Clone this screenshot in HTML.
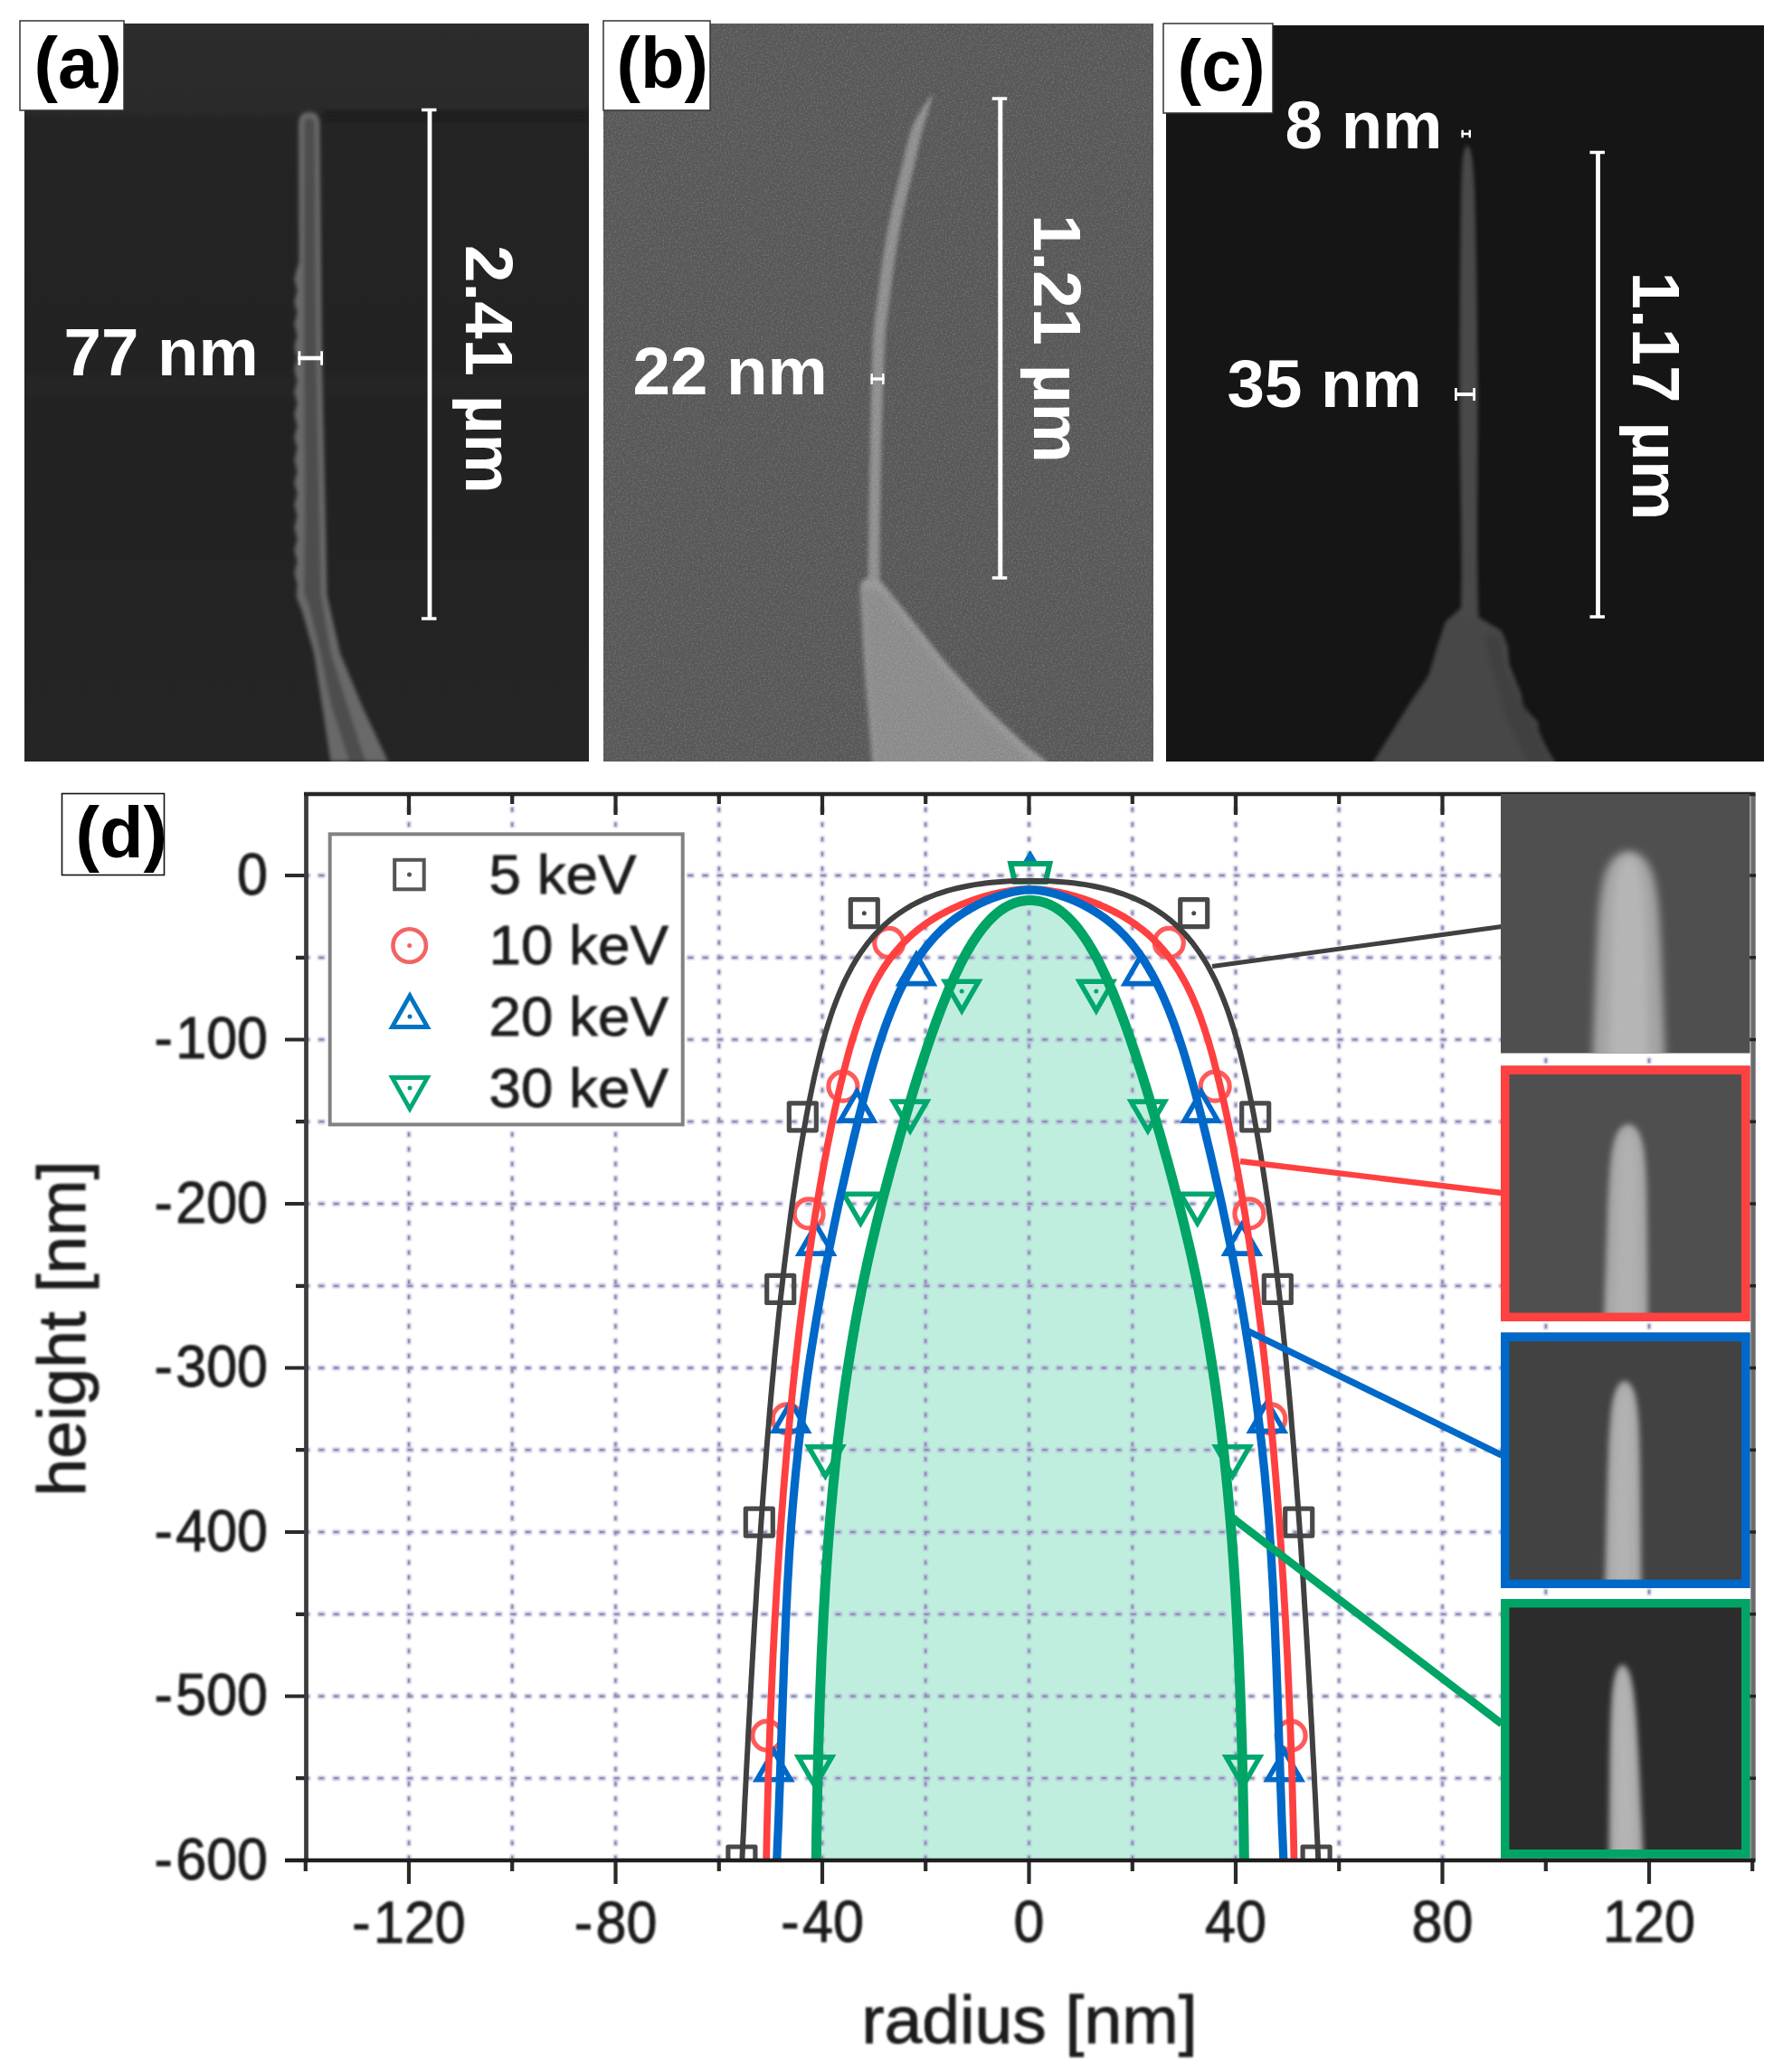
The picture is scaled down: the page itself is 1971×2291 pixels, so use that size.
<!DOCTYPE html>
<html lang="en"><head><meta charset="utf-8"><title>Nanowire tips – SEM and tip profile</title>
<style>
html,body{margin:0;padding:0;background:#fff}
svg{display:block}
text{font-family:"Liberation Sans",Arial,Helvetica,sans-serif}
.b{font-weight:bold}
.w{fill:#fff}
</style></head><body>
<svg width="1971" height="2291" viewBox="0 0 1971 2291">
<defs>
<filter id="bl2" x="-20%" y="-20%" width="140%" height="140%"><feGaussianBlur stdDeviation="2"/></filter>
<filter id="bl3" x="-20%" y="-20%" width="140%" height="140%"><feGaussianBlur stdDeviation="3"/></filter>
<filter id="bl5" x="-30%" y="-30%" width="160%" height="160%"><feGaussianBlur stdDeviation="5"/></filter>
<filter id="bl1" x="-10%" y="-10%" width="120%" height="120%"><feGaussianBlur stdDeviation="1.1"/></filter>
<filter id="soft" x="-2%" y="-2%" width="104%" height="104%"><feGaussianBlur stdDeviation="0.7"/></filter>
<filter id="tblur" x="-5%" y="-5%" width="110%" height="110%"><feGaussianBlur stdDeviation="0.9"/></filter>
<filter id="grain" x="0" y="0" width="100%" height="100%">
 <feTurbulence type="fractalNoise" baseFrequency="0.55" numOctaves="2" seed="3" result="n"/>
 <feColorMatrix type="matrix" values="0 0 0 0 1  0 0 0 0 1  0 0 0 0 1  0.9 0 0 0 -0.38"/>
</filter>
<clipPath id="cpa"><rect x="27" y="26" width="624" height="816"/></clipPath>
<clipPath id="cpb"><rect x="667" y="26" width="608" height="816"/></clipPath>
<clipPath id="cpc"><rect x="1289" y="28" width="661" height="814"/></clipPath>
<clipPath id="cpplot"><rect x="338.0" y="878.0" width="1600.0" height="1179.0"/></clipPath>
<linearGradient id="ga" x1="0" y1="0" x2="0" y2="1">
 <stop offset="0" stop-color="#2c2c2c"/><stop offset="0.118" stop-color="#2a2a2a"/>
 <stop offset="0.132" stop-color="#242424"/><stop offset="0.6" stop-color="#222222"/><stop offset="1" stop-color="#252525"/>
</linearGradient>
</defs>
<rect width="1971" height="2291" fill="#fff"/>

<g id="panel-a">
<rect x="27" y="26" width="624" height="816" fill="url(#ga)"/>
<g clip-path="url(#cpa)">
 <rect x="357" y="122" width="294" height="12" fill="#1f1f1f" filter="url(#bl3)"/>
 <rect x="27" y="414" width="624" height="26" fill="#2b2b2b" opacity="0.4" filter="url(#bl5)"/>
 <g filter="url(#bl2)">
  <path d="M330,137 Q330,124 342,124 Q353.5,124 353.5,137 L356,400 L359.5,560 L361.5,658 L376,722 L400,780 L429,842 L365.5,842 L356,780 L347,722 L334,676 L327.5,660 L328.5,646.0 L325.3,633.5 L328.5,621.0 L325.3,608.5 L328.5,596.0 L325.3,583.5 L328.5,571.0 L325.3,558.5 L328.5,546.0 L325.3,533.5 L328.5,521.0 L325.3,508.5 L328.5,496.0 L325.3,483.5 L328.5,471.0 L325.3,458.5 L328.5,446.0 L325.3,433.5 L328.5,421.0 L325.3,408.5 L328.5,396.0 L325.3,383.5 L328.5,371.0 L325.3,358.5 L328.5,346.0 L325.3,333.5 L328.5,321.0 L325.3,308.5 L328.5,296.0 L330.5,290 Z" fill="#696969"/>
  <path d="M336,140 Q336,130 342,130 Q348,130 348,140 L350,400 L353,560 L355,658 L366,722 L384,780 L404,842 L386,842 L366,780 L354,722 L342,672 L336,655 L337,560 L336,400 Z" fill="#4d4d4d"/>
 </g>
</g>
<path d="M475,121.5 V684" stroke="#fff" stroke-width="4.8" fill="none"/><path d="M465.95,121.5 h16.5 M465.95,684 h16.5" stroke="#fff" stroke-width="3.4" fill="none"/>
<path d="M329.5,396 H357" stroke="#fff" stroke-width="4.6" fill="none"/><path d="M330.9,388.25 v15.5 M355.6,388.25 v15.5" stroke="#fff" stroke-width="2.8" fill="none"/>
<text class="b w" x="70.500" y="415" font-size="74.500">77 nm</text>
<text class="b w" transform="translate(515,271) rotate(90)" font-size="74.500">2.41 µm</text>
<rect x="22" y="23" width="115" height="99" fill="#fff" stroke="#333" stroke-width="1.5"/>
<text class="b" x="37.500" y="97" font-size="79.500" fill="#000">(a)</text>
</g>

<g id="panel-b">
<rect x="667" y="26" width="608" height="816" fill="#575757"/>
<g clip-path="url(#cpb)">
 <g filter="url(#bl2)">
  <path d="M951,645 L959,638 L972.5,641 L1006.6,683.6 L1049.2,736.9 L1091.8,783.8 L1134.4,824.3 L1162,846 L965,846 L956,740 Z" fill="#969696"/>
  <path d="M953,650 L975,654 L1008,696 L1049,748 L1090,794 L1136,836 L1140,846 L966,846 L958,740 Z" fill="#8a8a8a" filter="url(#bl3)"/>
  <path d="M1029.8,105.0 L1024.6,111.8 L1020.1,118.6 L1016.0,125.4 L1012.2,132.2 L1009.0,139.0 L1006.6,145.8 L1004.6,152.6 L1002.8,159.4 L1001.1,166.2 L999.5,173.0 L997.9,179.8 L996.3,186.6 L994.7,193.4 L993.0,200.2 L991.4,207.0 L989.7,213.8 L988.2,220.6 L986.6,227.4 L985.2,234.2 L983.8,240.9 L982.5,247.7 L981.2,254.5 L979.9,261.3 L978.7,268.1 L977.6,274.9 L976.5,281.7 L975.5,288.5 L974.5,295.3 L973.6,302.1 L972.7,308.9 L971.9,315.7 L971.0,322.5 L970.2,329.3 L969.3,336.1 L968.3,342.9 L967.4,349.7 L966.6,356.5 L965.8,363.3 L965.3,370.1 L964.9,376.9 L964.5,383.7 L964.3,390.5 L964.1,397.3 L963.9,404.1 L963.7,410.9 L963.5,417.7 L963.4,424.5 L963.2,431.3 L963.0,438.1 L962.9,444.9 L962.7,451.7 L962.6,458.5 L962.4,465.3 L962.3,472.1 L962.2,478.9 L962.0,485.7 L961.9,492.5 L961.8,499.3 L961.6,506.1 L961.5,512.8 L961.3,519.6 L961.2,526.4 L961.0,533.2 L960.9,540.0 L960.8,546.8 L960.7,553.6 L960.5,560.4 L960.4,567.2 L960.3,574.0 L960.3,580.8 L960.2,587.6 L960.1,594.4 L960.0,601.2 L959.9,608.0 L959.8,614.8 L959.7,621.6 L959.6,628.4 L959.6,635.2 L959.5,642.0 L972.5,642.0 L972.5,635.2 L972.5,628.4 L972.5,621.6 L972.5,614.8 L972.5,608.0 L972.6,601.2 L972.6,594.4 L972.7,587.6 L972.8,580.8 L972.8,574.0 L972.9,567.2 L973.0,560.4 L973.2,553.6 L973.3,546.8 L973.4,540.0 L973.5,533.2 L973.7,526.4 L973.8,519.6 L974.0,512.8 L974.1,506.1 L974.3,499.3 L974.4,492.5 L974.6,485.7 L974.7,478.9 L974.9,472.1 L975.1,465.3 L975.3,458.5 L975.5,451.7 L975.7,444.9 L975.9,438.1 L976.1,431.3 L976.3,424.5 L976.5,417.7 L976.8,410.9 L977.1,404.1 L977.3,397.3 L977.6,390.5 L978.0,383.7 L978.3,376.9 L978.8,370.1 L979.3,363.3 L980.1,356.5 L980.9,349.7 L981.8,342.9 L982.8,336.1 L983.7,329.3 L984.5,322.5 L985.4,315.7 L986.2,308.9 L987.1,302.1 L988.0,295.3 L989.0,288.5 L990.0,281.7 L991.1,274.9 L992.2,268.1 L993.4,261.3 L994.7,254.5 L996.0,247.7 L997.3,240.9 L998.7,234.2 L1000.1,227.4 L1001.7,220.6 L1003.2,213.8 L1004.9,207.0 L1006.5,200.2 L1008.2,193.4 L1009.8,186.6 L1011.4,179.8 L1012.9,173.0 L1014.3,166.2 L1015.9,159.4 L1017.5,152.6 L1019.3,145.8 L1021.3,139.0 L1023.3,132.2 L1025.3,125.4 L1027.3,118.6 L1029.3,111.8 L1031.2,105.0 Z" fill="#8e8e8e"/>
 </g>
 <rect x="667" y="26" width="608" height="816" filter="url(#grain)" opacity="0.42"/>
</g>
<path d="M1105.8,109 V639" stroke="#fff" stroke-width="5" fill="none"/><path d="M1096.75,109 h16.5 M1096.75,639 h16.5" stroke="#fff" stroke-width="3.4" fill="none"/>
<path d="M962.5,419 H977.5" stroke="#fff" stroke-width="3.4" fill="none"/><path d="M963.7,413.0 v12 M976.3,413.0 v12" stroke="#fff" stroke-width="2.4" fill="none"/>
<text class="b w" x="699.500" y="436" font-size="74.500">22 nm</text>
<text class="b w" transform="translate(1143,237) rotate(90)" font-size="74.500">1.21 µm</text>
<rect x="667" y="23" width="118" height="99" fill="#fff" stroke="#333" stroke-width="1.5"/>
<text class="b" x="681.500" y="97" font-size="79.500" fill="#000">(b)</text>
</g>

<g id="panel-c">
<rect x="1289" y="28" width="661" height="814" fill="#151515"/>
<g clip-path="url(#cpc)">
 <g filter="url(#bl2)">
  <path d="M1614.6,672.4 L1597.8,687.5 L1587.7,717.8 L1579.3,746.4 L1555.7,781.7 L1516,846 L1721,846 L1708.8,825.5 L1700.4,807 L1700.4,798.5 L1683.6,781.7 L1681.9,768.3 L1668.5,734.6 L1666.8,714.4 L1660,697.6 L1634.8,682.5 Z" fill="#474747"/>
  <path d="M1640,700 L1658,704 L1664,740 L1678,772 L1694,800 L1714,846 L1690,846 L1664,790 L1650,740 Z" fill="#3f3f3f" filter="url(#bl3)"/>
  <path d="M1620.5,161.5 L1617.6,170.3 L1616.7,179.1 L1616.1,188.0 L1615.7,196.8 L1615.4,205.6 L1615.2,214.4 L1615.0,223.3 L1614.9,232.1 L1614.8,240.9 L1614.7,249.7 L1614.6,258.5 L1614.5,267.4 L1614.4,276.2 L1614.3,285.0 L1614.2,293.8 L1614.1,302.7 L1614.1,311.5 L1614.0,320.3 L1613.9,329.1 L1613.9,337.9 L1613.8,346.8 L1613.8,355.6 L1613.7,364.4 L1613.7,373.2 L1613.6,382.1 L1613.6,390.9 L1613.5,399.7 L1613.5,408.5 L1613.5,417.3 L1613.5,426.2 L1613.5,435.0 L1613.5,443.8 L1613.6,452.6 L1613.6,461.4 L1613.7,470.3 L1613.8,479.1 L1613.9,487.9 L1614.0,496.7 L1614.1,505.6 L1614.2,514.4 L1614.3,523.2 L1614.5,532.0 L1614.6,540.8 L1614.8,549.7 L1614.9,558.5 L1615.1,567.3 L1615.2,576.1 L1615.3,585.0 L1615.4,593.8 L1615.5,602.6 L1615.5,611.4 L1615.6,620.2 L1615.6,629.1 L1615.6,637.9 L1615.5,646.7 L1615.4,655.5 L1615.2,664.4 L1614.9,673.2 L1614.5,682.0 L1634.5,682.0 L1634.1,673.2 L1633.8,664.4 L1633.6,655.5 L1633.5,646.7 L1633.4,637.9 L1633.3,629.1 L1633.1,620.2 L1633.0,611.4 L1633.0,602.6 L1632.9,593.8 L1632.9,585.0 L1632.9,576.1 L1633.0,567.3 L1633.0,558.5 L1633.1,549.7 L1633.2,540.8 L1633.2,532.0 L1633.3,523.2 L1633.3,514.4 L1633.4,505.6 L1633.4,496.7 L1633.4,487.9 L1633.5,479.1 L1633.5,470.3 L1633.5,461.4 L1633.5,452.6 L1633.5,443.8 L1633.5,435.0 L1633.5,426.2 L1633.4,417.3 L1633.4,408.5 L1633.3,399.7 L1633.2,390.9 L1633.1,382.1 L1633.0,373.2 L1633.0,364.4 L1632.9,355.6 L1632.8,346.8 L1632.7,337.9 L1632.6,329.1 L1632.4,320.3 L1632.3,311.5 L1632.2,302.7 L1632.0,293.8 L1631.9,285.0 L1631.7,276.2 L1631.5,267.4 L1631.4,258.5 L1631.2,249.7 L1631.0,240.9 L1630.7,232.1 L1630.5,223.3 L1630.2,214.4 L1629.8,205.6 L1629.3,196.8 L1628.6,188.0 L1627.8,179.1 L1626.6,170.3 L1623.5,161.5 Z" fill="#4a4a4a"/>
 </g>
</g>
<path d="M1766.5,168.5 V682" stroke="#fff" stroke-width="4.8" fill="none"/><path d="M1757.45,168.5 h16.5 M1757.45,682 h16.5" stroke="#fff" stroke-width="3.4" fill="none"/>
<path d="M1608,436 H1631" stroke="#fff" stroke-width="4.0" fill="none"/><path d="M1609.4,429.0 v14 M1629.6,429.0 v14" stroke="#fff" stroke-width="2.8" fill="none"/>
<path d="M1615.5,148 H1626" stroke="#fff" stroke-width="2.6" fill="none"/><path d="M1616.7,143.75 v8.5 M1624.8,143.75 v8.5" stroke="#fff" stroke-width="2.4" fill="none"/>
<text class="b w" x="1420.500" y="164" font-size="74.500">8 nm</text>
<text class="b w" x="1356.500" y="450" font-size="74.500">35 nm</text>
<text class="b w" transform="translate(1805,300.500) rotate(90)" font-size="74.500">1.17 µm</text>
<rect x="1286" y="26" width="121" height="99" fill="#fff" stroke="#333" stroke-width="1.5"/>
<text class="b" x="1301.500" y="100" font-size="79.500" fill="#000">(c)</text>
</g>

<g id="chart">
<path d="M902.0,2069.0 L902.3,2053.6 L902.5,2038.3 L902.7,2023.2 L903.0,2008.1 L903.3,1993.2 L903.6,1978.3 L903.9,1963.6 L904.3,1949.0 L904.6,1934.5 L905.0,1920.1 L905.5,1905.8 L905.9,1891.6 L906.4,1877.6 L906.9,1863.6 L907.5,1849.8 L908.0,1836.1 L908.6,1822.5 L909.3,1809.0 L909.9,1795.6 L910.6,1782.3 L911.4,1769.1 L912.1,1756.1 L913.0,1743.1 L913.8,1730.3 L914.7,1717.6 L915.6,1705.0 L916.6,1692.5 L917.6,1680.1 L918.7,1667.8 L919.8,1655.6 L920.9,1643.6 L922.1,1631.6 L923.3,1619.8 L924.6,1608.1 L925.9,1596.5 L927.3,1584.9 L928.7,1573.6 L930.1,1562.3 L931.6,1551.1 L933.1,1540.1 L934.7,1529.1 L936.3,1518.3 L938.0,1507.6 L939.7,1496.9 L941.4,1486.4 L943.2,1476.0 L945.0,1465.8 L946.8,1455.6 L948.7,1445.5 L950.7,1435.6 L952.6,1425.8 L954.6,1416.0 L956.7,1406.4 L958.7,1396.9 L960.8,1387.5 L962.9,1378.3 L965.1,1369.1 L967.3,1360.0 L969.4,1351.1 L971.6,1342.3 L973.8,1333.5 L976.0,1324.9 L978.3,1316.4 L980.5,1308.0 L982.7,1299.8 L984.9,1291.6 L987.1,1283.5 L989.4,1275.6 L991.6,1267.8 L993.7,1260.0 L995.9,1252.4 L998.1,1244.9 L1000.2,1237.5 L1002.4,1230.2 L1004.5,1223.1 L1006.6,1216.0 L1008.7,1209.1 L1010.8,1202.2 L1012.9,1195.5 L1014.9,1188.9 L1017.0,1182.4 L1019.1,1176.0 L1021.1,1169.7 L1023.1,1163.6 L1025.2,1157.5 L1027.2,1151.6 L1029.2,1145.7 L1031.2,1140.0 L1033.2,1134.4 L1035.2,1128.9 L1037.2,1123.5 L1039.2,1118.2 L1041.2,1113.1 L1043.2,1108.0 L1045.2,1103.1 L1047.1,1098.2 L1049.1,1093.5 L1051.1,1088.9 L1053.1,1084.4 L1055.1,1080.0 L1057.1,1075.7 L1059.1,1071.6 L1061.0,1067.5 L1063.0,1063.6 L1065.0,1059.7 L1067.0,1056.0 L1069.0,1052.4 L1071.1,1048.9 L1073.1,1045.5 L1075.1,1042.2 L1077.1,1039.1 L1079.2,1036.0 L1081.2,1033.1 L1083.3,1030.2 L1085.3,1027.5 L1087.4,1024.9 L1089.5,1022.4 L1091.6,1020.0 L1093.7,1017.7 L1095.8,1015.6 L1097.9,1013.5 L1100.0,1011.6 L1102.2,1009.7 L1104.3,1008.0 L1106.5,1006.4 L1108.7,1004.9 L1110.9,1003.5 L1113.2,1002.2 L1115.4,1001.1 L1117.6,1000.0 L1119.9,999.1 L1122.2,998.2 L1124.5,997.5 L1126.9,996.9 L1129.2,996.4 L1131.6,996.0 L1134.0,995.7 L1136.4,995.6 L1138.8,995.5 L1141.2,995.6 L1143.6,995.7 L1146.0,996.0 L1148.4,996.4 L1150.7,996.9 L1153.1,997.5 L1155.4,998.2 L1157.7,999.1 L1160.0,1000.0 L1162.2,1001.1 L1164.4,1002.2 L1166.7,1003.5 L1168.9,1004.9 L1171.1,1006.4 L1173.3,1008.0 L1175.4,1009.7 L1177.6,1011.6 L1179.7,1013.5 L1181.8,1015.6 L1183.9,1017.7 L1186.0,1020.0 L1188.1,1022.4 L1190.2,1024.9 L1192.3,1027.5 L1194.3,1030.2 L1196.4,1033.1 L1198.4,1036.0 L1200.5,1039.1 L1202.5,1042.2 L1204.5,1045.5 L1206.5,1048.9 L1208.6,1052.4 L1210.6,1056.0 L1212.6,1059.7 L1214.6,1063.6 L1216.6,1067.5 L1218.5,1071.6 L1220.5,1075.7 L1222.5,1080.0 L1224.5,1084.4 L1226.5,1088.9 L1228.5,1093.5 L1230.5,1098.2 L1232.4,1103.1 L1234.4,1108.0 L1236.4,1113.1 L1238.4,1118.2 L1240.4,1123.5 L1242.4,1128.9 L1244.4,1134.4 L1246.4,1140.0 L1248.4,1145.7 L1250.4,1151.6 L1252.4,1157.5 L1254.5,1163.6 L1256.5,1169.7 L1258.5,1176.0 L1260.6,1182.4 L1262.7,1188.9 L1264.7,1195.5 L1266.8,1202.2 L1268.9,1209.1 L1271.0,1216.0 L1273.1,1223.1 L1275.2,1230.2 L1277.4,1237.5 L1279.5,1244.9 L1281.7,1252.4 L1283.9,1260.0 L1286.0,1267.8 L1288.2,1275.6 L1290.5,1283.5 L1292.7,1291.6 L1294.9,1299.8 L1297.1,1308.0 L1299.3,1316.4 L1301.6,1324.9 L1303.8,1333.5 L1306.0,1342.3 L1308.2,1351.1 L1310.3,1360.0 L1312.5,1369.1 L1314.7,1378.3 L1316.8,1387.5 L1318.9,1396.9 L1320.9,1406.4 L1323.0,1416.0 L1325.0,1425.8 L1326.9,1435.6 L1328.9,1445.5 L1330.8,1455.6 L1332.6,1465.8 L1334.4,1476.0 L1336.2,1486.4 L1337.9,1496.9 L1339.6,1507.6 L1341.3,1518.3 L1342.9,1529.1 L1344.5,1540.1 L1346.0,1551.1 L1347.5,1562.3 L1348.9,1573.6 L1350.3,1584.9 L1351.7,1596.5 L1353.0,1608.1 L1354.3,1619.8 L1355.5,1631.6 L1356.7,1643.6 L1357.8,1655.6 L1358.9,1667.8 L1360.0,1680.1 L1361.0,1692.5 L1362.0,1705.0 L1362.9,1717.6 L1363.8,1730.3 L1364.6,1743.1 L1365.5,1756.1 L1366.2,1769.1 L1367.0,1782.3 L1367.7,1795.6 L1368.3,1809.0 L1369.0,1822.5 L1369.6,1836.1 L1370.1,1849.8 L1370.7,1863.6 L1371.2,1877.6 L1371.7,1891.6 L1372.1,1905.8 L1372.6,1920.1 L1373.0,1934.5 L1373.3,1949.0 L1373.7,1963.6 L1374.0,1978.3 L1374.3,1993.2 L1374.6,2008.1 L1374.9,2023.2 L1375.1,2038.3 L1375.3,2053.6 L1375.6,2069.0 Z" fill="#bfeedf" clip-path="url(#cpplot)"/>
<g fill="none" stroke="#ababd0" stroke-width="4.4" filter="url(#tblur)"><path d="M338.0,968.0 H1938.0 M338.0,1058.8 H1938.0 M338.0,1149.5 H1938.0 M338.0,1240.2 H1938.0 M338.0,1331.0 H1938.0 M338.0,1421.8 H1938.0 M338.0,1512.5 H1938.0 M338.0,1603.2 H1938.0 M338.0,1694.0 H1938.0 M338.0,1784.8 H1938.0 M338.0,1875.5 H1938.0 M338.0,1966.2 H1938.0" stroke-dasharray="8 8.32" stroke-dashoffset="3"/><path d="M452.0,878.0 V2057.0 M566.2,878.0 V2057.0 M680.5,878.0 V2057.0 M794.8,878.0 V2057.0 M909.0,878.0 V2057.0 M1023.2,878.0 V2057.0 M1137.5,878.0 V2057.0 M1251.8,878.0 V2057.0 M1366.0,878.0 V2057.0 M1480.2,878.0 V2057.0 M1594.5,878.0 V2057.0 M1708.8,878.0 V2057.0 M1823.0,878.0 V2057.0" stroke-dasharray="6.4 9.92" stroke-dashoffset="2.2"/></g>
<g fill="none" stroke="#77779c" stroke-width="1.8" opacity="0.6"><path d="M338.0,968.0 H1938.0 M338.0,1058.8 H1938.0 M338.0,1149.5 H1938.0 M338.0,1240.2 H1938.0 M338.0,1331.0 H1938.0 M338.0,1421.8 H1938.0 M338.0,1512.5 H1938.0 M338.0,1603.2 H1938.0 M338.0,1694.0 H1938.0 M338.0,1784.8 H1938.0 M338.0,1875.5 H1938.0 M338.0,1966.2 H1938.0" stroke-dasharray="5 11.32" stroke-dashoffset="1.5"/><path d="M452.0,878.0 V2057.0 M566.2,878.0 V2057.0 M680.5,878.0 V2057.0 M794.8,878.0 V2057.0 M909.0,878.0 V2057.0 M1023.2,878.0 V2057.0 M1137.5,878.0 V2057.0 M1251.8,878.0 V2057.0 M1366.0,878.0 V2057.0 M1480.2,878.0 V2057.0 M1594.5,878.0 V2057.0 M1708.8,878.0 V2057.0 M1823.0,878.0 V2057.0" stroke-dasharray="4 12.32" stroke-dashoffset="1"/></g>
<g clip-path="url(#cpplot)"><g fill="none" stroke-linejoin="round" filter="url(#soft)">
<path d="M1138.8,941.5 L1129.5,957 H1148.1 Z" fill="#0074c2" stroke="#0074c2" stroke-width="1.5"/>
<path d="M1117.2,955 H1160.4 L1155.8,975 H1121.8 Z" fill="none" stroke="#00a26c" stroke-width="6" stroke-linejoin="miter"/>
<rect x="940.3" y="994.7" width="30" height="30" fill="none" stroke="#4a4a4a" stroke-width="5.2"/><circle cx="955.3" cy="1009.7" r="2.5" fill="#4a4a4a"/>
<rect x="1304.7" y="994.7" width="30" height="30" fill="none" stroke="#4a4a4a" stroke-width="5.2"/><circle cx="1319.7" cy="1009.7" r="2.5" fill="#4a4a4a"/>
<rect x="872.3" y="1219.8" width="30" height="30" fill="none" stroke="#4a4a4a" stroke-width="5.2"/>
<rect x="1372.7" y="1219.8" width="30" height="30" fill="none" stroke="#4a4a4a" stroke-width="5.2"/>
<rect x="847.7" y="1410.4" width="30" height="30" fill="none" stroke="#4a4a4a" stroke-width="5.2"/>
<rect x="1397.3" y="1410.4" width="30" height="30" fill="none" stroke="#4a4a4a" stroke-width="5.2"/>
<rect x="824.3" y="1668.1" width="30" height="30" fill="none" stroke="#4a4a4a" stroke-width="5.2"/>
<rect x="1420.7" y="1668.1" width="30" height="30" fill="none" stroke="#4a4a4a" stroke-width="5.2"/>
<rect x="804.9" y="2042.0" width="30" height="30" fill="none" stroke="#4a4a4a" stroke-width="5.2"/>
<rect x="1440.1" y="2042.0" width="30" height="30" fill="none" stroke="#4a4a4a" stroke-width="5.2"/>
<circle cx="982.7" cy="1042.4" r="16.0" fill="none" stroke="#ff5a5a" stroke-width="5.2"/>
<circle cx="1292.3" cy="1042.4" r="16.0" fill="none" stroke="#ff5a5a" stroke-width="5.2"/>
<circle cx="931.9" cy="1201.2" r="16.0" fill="none" stroke="#ff5a5a" stroke-width="5.2"/>
<circle cx="1343.2" cy="1201.2" r="16.0" fill="none" stroke="#ff5a5a" stroke-width="5.2"/>
<circle cx="894.1" cy="1341.9" r="16.0" fill="none" stroke="#ff5a5a" stroke-width="5.2"/>
<circle cx="1380.9" cy="1341.9" r="16.0" fill="none" stroke="#ff5a5a" stroke-width="5.2"/>
<circle cx="870.2" cy="1568.8" r="16.0" fill="none" stroke="#ff5a5a" stroke-width="5.2"/>
<circle cx="1404.8" cy="1568.8" r="16.0" fill="none" stroke="#ff5a5a" stroke-width="5.2"/>
<circle cx="847.9" cy="1919.1" r="16.0" fill="none" stroke="#ff5a5a" stroke-width="5.2"/>
<circle cx="1427.1" cy="1919.1" r="16.0" fill="none" stroke="#ff5a5a" stroke-width="5.2"/>
<polygon points="1013.0,1055.6 994.5,1087.6 1031.5,1087.6" fill="none" stroke="#0068c8" stroke-width="5.6" stroke-linejoin="miter"/>
<polygon points="1262.0,1055.6 1243.5,1087.6 1280.5,1087.6" fill="none" stroke="#0068c8" stroke-width="5.6" stroke-linejoin="miter"/>
<polygon points="947.3,1207.1 928.8,1239.1 965.8,1239.1" fill="none" stroke="#0068c8" stroke-width="5.6" stroke-linejoin="miter"/>
<polygon points="1327.7,1207.1 1309.2,1239.1 1346.2,1239.1" fill="none" stroke="#0068c8" stroke-width="5.6" stroke-linejoin="miter"/>
<polygon points="902.1,1354.1 883.6,1386.1 920.6,1386.1" fill="none" stroke="#0068c8" stroke-width="5.6" stroke-linejoin="miter"/>
<polygon points="1372.9,1354.1 1354.4,1386.1 1391.4,1386.1" fill="none" stroke="#0068c8" stroke-width="5.6" stroke-linejoin="miter"/>
<polygon points="874.2,1550.2 855.7,1582.2 892.7,1582.2" fill="none" stroke="#0068c8" stroke-width="5.6" stroke-linejoin="miter"/>
<polygon points="1400.8,1550.2 1382.3,1582.2 1419.3,1582.2" fill="none" stroke="#0068c8" stroke-width="5.6" stroke-linejoin="miter"/>
<polygon points="855.3,1935.8 836.8,1967.8 873.8,1967.8" fill="none" stroke="#0068c8" stroke-width="5.6" stroke-linejoin="miter"/>
<polygon points="1419.7,1935.8 1401.2,1967.8 1438.2,1967.8" fill="none" stroke="#0068c8" stroke-width="5.6" stroke-linejoin="miter"/>
<polygon points="1063.2,1117.3 1044.7,1085.3 1081.7,1085.3" fill="none" stroke="#00a86e" stroke-width="5.6" stroke-linejoin="miter"/><circle cx="1063.2" cy="1096.0" r="2.5" fill="#00a86e"/>
<polygon points="1211.8,1117.3 1193.3,1085.3 1230.3,1085.3" fill="none" stroke="#00a86e" stroke-width="5.6" stroke-linejoin="miter"/><circle cx="1211.8" cy="1096.0" r="2.5" fill="#00a86e"/>
<polygon points="1006.1,1250.1 987.6,1218.1 1024.6,1218.1" fill="none" stroke="#00a86e" stroke-width="5.6" stroke-linejoin="miter"/>
<polygon points="1268.9,1250.1 1250.4,1218.1 1287.4,1218.1" fill="none" stroke="#00a86e" stroke-width="5.6" stroke-linejoin="miter"/>
<polygon points="951.3,1352.3 932.8,1320.3 969.8,1320.3" fill="none" stroke="#00a86e" stroke-width="5.6" stroke-linejoin="miter"/>
<polygon points="1323.7,1352.3 1305.2,1320.3 1342.2,1320.3" fill="none" stroke="#00a86e" stroke-width="5.6" stroke-linejoin="miter"/>
<polygon points="912.4,1631.8 893.9,1599.8 930.9,1599.8" fill="none" stroke="#00a86e" stroke-width="5.6" stroke-linejoin="miter"/>
<polygon points="1362.6,1631.8 1344.1,1599.8 1381.1,1599.8" fill="none" stroke="#00a86e" stroke-width="5.6" stroke-linejoin="miter"/>
<polygon points="901.0,1974.9 882.5,1942.9 919.5,1942.9" fill="none" stroke="#00a86e" stroke-width="5.6" stroke-linejoin="miter"/>
<polygon points="1374.0,1974.9 1355.5,1942.9 1392.5,1942.9" fill="none" stroke="#00a86e" stroke-width="5.6" stroke-linejoin="miter"/>
<path d="M819.8,2069.0 L820.5,2053.3 L821.2,2037.7 L822.0,2022.2 L822.7,2006.9 L823.4,1991.6 L824.2,1976.5 L824.9,1961.5 L825.7,1946.6 L826.5,1931.8 L827.2,1917.1 L828.0,1902.5 L828.8,1888.1 L829.6,1873.7 L830.4,1859.5 L831.2,1845.4 L832.0,1831.4 L832.8,1817.5 L833.6,1803.7 L834.4,1790.1 L835.3,1776.5 L836.1,1763.1 L836.9,1749.8 L837.8,1736.5 L838.7,1723.5 L839.5,1710.5 L840.4,1697.6 L841.3,1684.8 L842.2,1672.2 L843.1,1659.7 L844.0,1647.3 L844.9,1635.0 L845.9,1622.8 L846.8,1610.7 L847.7,1598.7 L848.7,1586.9 L849.7,1575.2 L850.6,1563.5 L851.6,1552.0 L852.6,1540.6 L853.6,1529.4 L854.7,1518.2 L855.7,1507.1 L856.7,1496.2 L857.8,1485.4 L858.9,1474.7 L859.9,1464.1 L861.0,1453.6 L862.1,1443.2 L863.2,1432.9 L864.4,1422.8 L865.5,1412.8 L866.6,1402.8 L867.8,1393.0 L869.0,1383.3 L870.2,1373.8 L871.4,1364.3 L872.6,1354.9 L873.8,1345.7 L875.0,1336.6 L876.3,1327.6 L877.6,1318.7 L878.9,1309.9 L880.2,1301.2 L881.5,1292.6 L882.8,1284.2 L884.1,1275.9 L885.5,1267.7 L886.9,1259.5 L888.3,1251.6 L889.7,1243.7 L891.1,1235.9 L892.5,1228.3 L894.0,1220.7 L895.5,1213.3 L897.0,1206.0 L898.5,1198.8 L900.0,1191.7 L901.6,1184.7 L903.2,1177.9 L904.8,1171.1 L906.4,1164.5 L908.1,1158.0 L909.8,1151.6 L911.6,1145.3 L913.4,1139.1 L915.3,1133.0 L917.2,1127.1 L919.1,1121.2 L921.1,1115.5 L923.2,1109.9 L925.3,1104.4 L927.5,1099.0 L929.7,1093.7 L932.0,1088.6 L934.3,1083.5 L936.8,1078.6 L939.3,1073.8 L941.8,1069.1 L944.5,1064.5 L947.2,1060.0 L950.0,1055.7 L952.9,1051.4 L955.9,1047.3 L958.9,1043.2 L962.1,1039.3 L965.3,1035.5 L968.6,1031.8 L972.1,1028.3 L975.6,1024.8 L979.2,1021.5 L982.9,1018.2 L986.8,1015.1 L990.7,1012.1 L994.8,1009.2 L998.9,1006.5 L1003.2,1003.8 L1007.6,1001.2 L1012.1,998.8 L1016.8,996.5 L1021.6,994.3 L1026.4,992.2 L1031.5,990.2 L1036.6,988.3 L1041.9,986.6 L1047.3,984.9 L1052.9,983.4 L1058.6,982.0 L1064.4,980.7 L1070.4,979.5 L1076.5,978.4 L1082.8,977.4 L1089.3,976.6 L1095.9,975.8 L1102.6,975.2 L1109.5,974.7 L1116.6,974.3 L1123.8,974.0 L1131.2,973.9 L1138.8,973.8 L1146.4,973.9 L1153.8,974.0 L1161.0,974.3 L1168.1,974.7 L1175.0,975.2 L1181.7,975.8 L1188.3,976.6 L1194.8,977.4 L1201.1,978.4 L1207.2,979.5 L1213.2,980.7 L1219.0,982.0 L1224.7,983.4 L1230.3,984.9 L1235.7,986.6 L1241.0,988.3 L1246.1,990.2 L1251.2,992.2 L1256.0,994.3 L1260.8,996.5 L1265.5,998.8 L1270.0,1001.2 L1274.4,1003.8 L1278.7,1006.5 L1282.8,1009.2 L1286.9,1012.1 L1290.8,1015.1 L1294.7,1018.2 L1298.4,1021.5 L1302.0,1024.8 L1305.5,1028.3 L1309.0,1031.8 L1312.3,1035.5 L1315.5,1039.3 L1318.7,1043.2 L1321.7,1047.3 L1324.7,1051.4 L1327.6,1055.7 L1330.4,1060.0 L1333.1,1064.5 L1335.8,1069.1 L1338.3,1073.8 L1340.8,1078.6 L1343.3,1083.5 L1345.6,1088.6 L1347.9,1093.7 L1350.1,1099.0 L1352.3,1104.4 L1354.4,1109.9 L1356.5,1115.5 L1358.5,1121.2 L1360.4,1127.1 L1362.3,1133.0 L1364.2,1139.1 L1366.0,1145.3 L1367.8,1151.6 L1369.5,1158.0 L1371.2,1164.5 L1372.8,1171.1 L1374.4,1177.9 L1376.0,1184.7 L1377.6,1191.7 L1379.1,1198.8 L1380.6,1206.0 L1382.1,1213.3 L1383.6,1220.7 L1385.1,1228.3 L1386.5,1235.9 L1387.9,1243.7 L1389.3,1251.6 L1390.7,1259.5 L1392.1,1267.7 L1393.5,1275.9 L1394.8,1284.2 L1396.1,1292.6 L1397.4,1301.2 L1398.7,1309.9 L1400.0,1318.7 L1401.3,1327.6 L1402.6,1336.6 L1403.8,1345.7 L1405.0,1354.9 L1406.2,1364.3 L1407.4,1373.8 L1408.6,1383.3 L1409.8,1393.0 L1411.0,1402.8 L1412.1,1412.8 L1413.2,1422.8 L1414.4,1432.9 L1415.5,1443.2 L1416.6,1453.6 L1417.7,1464.1 L1418.7,1474.7 L1419.8,1485.4 L1420.9,1496.2 L1421.9,1507.1 L1422.9,1518.2 L1424.0,1529.4 L1425.0,1540.6 L1426.0,1552.0 L1427.0,1563.5 L1427.9,1575.2 L1428.9,1586.9 L1429.9,1598.7 L1430.8,1610.7 L1431.7,1622.8 L1432.7,1635.0 L1433.6,1647.3 L1434.5,1659.7 L1435.4,1672.2 L1436.3,1684.8 L1437.2,1697.6 L1438.1,1710.5 L1438.9,1723.5 L1439.8,1736.5 L1440.7,1749.8 L1441.5,1763.1 L1442.3,1776.5 L1443.2,1790.1 L1444.0,1803.7 L1444.8,1817.5 L1445.6,1831.4 L1446.4,1845.4 L1447.2,1859.5 L1448.0,1873.7 L1448.8,1888.1 L1449.6,1902.5 L1450.4,1917.1 L1451.1,1931.8 L1451.9,1946.6 L1452.7,1961.5 L1453.4,1976.5 L1454.2,1991.6 L1454.9,2006.9 L1455.6,2022.2 L1456.4,2037.7 L1457.1,2053.3 L1457.8,2069.0" stroke="#3f3f3f" stroke-width="6.0"/>
<path d="M846.9,2069.0 L847.2,2053.4 L847.5,2038.0 L847.8,2022.6 L848.2,2007.4 L848.6,1992.3 L849.0,1977.3 L849.4,1962.4 L849.9,1947.6 L850.4,1932.9 L850.9,1918.4 L851.4,1903.9 L852.0,1889.6 L852.6,1875.4 L853.2,1861.3 L853.8,1847.3 L854.4,1833.4 L855.1,1819.6 L855.8,1805.9 L856.5,1792.4 L857.3,1779.0 L858.1,1765.6 L858.8,1752.4 L859.7,1739.3 L860.5,1726.4 L861.3,1713.5 L862.2,1700.7 L863.1,1688.1 L864.0,1675.5 L865.0,1663.1 L865.9,1650.8 L866.9,1638.6 L867.9,1626.5 L868.9,1614.6 L869.9,1602.7 L871.0,1590.9 L872.1,1579.3 L873.1,1567.8 L874.3,1556.4 L875.4,1545.1 L876.5,1533.9 L877.7,1522.8 L878.9,1511.9 L880.1,1501.0 L881.3,1490.3 L882.5,1479.7 L883.7,1469.1 L885.0,1458.7 L886.3,1448.5 L887.6,1438.3 L888.9,1428.2 L890.2,1418.3 L891.5,1408.4 L892.9,1398.7 L894.3,1389.1 L895.7,1379.6 L897.1,1370.2 L898.5,1360.9 L899.9,1351.8 L901.3,1342.7 L902.8,1333.8 L904.2,1325.0 L905.7,1316.3 L907.2,1307.7 L908.7,1299.2 L910.2,1290.8 L911.7,1282.5 L913.3,1274.4 L914.8,1266.3 L916.4,1258.4 L918.0,1250.6 L919.5,1242.9 L921.1,1235.3 L922.7,1227.8 L924.3,1220.5 L926.0,1213.2 L927.6,1206.1 L929.2,1199.1 L930.9,1192.2 L932.6,1185.3 L934.3,1178.7 L936.0,1172.1 L937.7,1165.6 L939.5,1159.3 L941.3,1153.0 L943.2,1146.9 L945.1,1140.9 L947.0,1135.0 L949.0,1129.2 L951.0,1123.5 L953.1,1118.0 L955.3,1112.5 L957.5,1107.2 L959.8,1101.9 L962.2,1096.8 L964.6,1091.8 L967.1,1086.9 L969.7,1082.2 L972.4,1077.5 L975.1,1072.9 L978.0,1068.5 L980.9,1064.2 L984.0,1059.9 L987.1,1055.8 L990.3,1051.9 L993.7,1048.0 L997.1,1044.2 L1000.6,1040.6 L1004.3,1037.0 L1008.0,1033.6 L1011.9,1030.3 L1015.8,1027.1 L1019.9,1024.0 L1024.1,1021.0 L1028.3,1018.1 L1032.7,1015.4 L1037.2,1012.7 L1041.7,1010.2 L1046.3,1007.8 L1051.0,1005.5 L1055.7,1003.3 L1060.4,1001.2 L1065.2,999.2 L1070.0,997.4 L1074.7,995.6 L1079.5,994.0 L1084.2,992.5 L1088.9,991.1 L1093.6,989.8 L1098.2,988.6 L1102.7,987.6 L1107.2,986.6 L1111.6,985.8 L1115.8,985.0 L1120.0,984.4 L1124.1,983.9 L1128.0,983.5 L1131.7,983.2 L1135.4,983.1 L1138.8,983.0 L1142.2,983.1 L1145.9,983.2 L1149.6,983.5 L1153.5,983.9 L1157.6,984.4 L1161.8,985.0 L1166.0,985.8 L1170.4,986.6 L1174.9,987.6 L1179.4,988.6 L1184.0,989.8 L1188.7,991.1 L1193.4,992.5 L1198.1,994.0 L1202.9,995.6 L1207.6,997.4 L1212.4,999.2 L1217.2,1001.2 L1221.9,1003.3 L1226.6,1005.5 L1231.3,1007.8 L1235.9,1010.2 L1240.4,1012.7 L1244.9,1015.4 L1249.3,1018.1 L1253.5,1021.0 L1257.7,1024.0 L1261.8,1027.1 L1265.7,1030.3 L1269.6,1033.6 L1273.3,1037.0 L1277.0,1040.6 L1280.5,1044.2 L1283.9,1048.0 L1287.3,1051.9 L1290.5,1055.8 L1293.6,1059.9 L1296.7,1064.2 L1299.6,1068.5 L1302.5,1072.9 L1305.2,1077.5 L1307.9,1082.2 L1310.5,1086.9 L1313.0,1091.8 L1315.4,1096.8 L1317.8,1101.9 L1320.1,1107.2 L1322.3,1112.5 L1324.5,1118.0 L1326.6,1123.5 L1328.6,1129.2 L1330.6,1135.0 L1332.5,1140.9 L1334.4,1146.9 L1336.3,1153.0 L1338.1,1159.3 L1339.9,1165.6 L1341.6,1172.1 L1343.3,1178.7 L1345.0,1185.3 L1346.7,1192.2 L1348.4,1199.1 L1350.0,1206.1 L1351.6,1213.2 L1353.3,1220.5 L1354.9,1227.8 L1356.5,1235.3 L1358.1,1242.9 L1359.6,1250.6 L1361.2,1258.4 L1362.8,1266.3 L1364.3,1274.4 L1365.9,1282.5 L1367.4,1290.8 L1368.9,1299.2 L1370.4,1307.7 L1371.9,1316.3 L1373.4,1325.0 L1374.8,1333.8 L1376.3,1342.7 L1377.7,1351.8 L1379.1,1360.9 L1380.5,1370.2 L1381.9,1379.6 L1383.3,1389.1 L1384.7,1398.7 L1386.1,1408.4 L1387.4,1418.3 L1388.7,1428.2 L1390.0,1438.3 L1391.3,1448.5 L1392.6,1458.7 L1393.9,1469.1 L1395.1,1479.7 L1396.3,1490.3 L1397.5,1501.0 L1398.7,1511.9 L1399.9,1522.8 L1401.1,1533.9 L1402.2,1545.1 L1403.3,1556.4 L1404.5,1567.8 L1405.5,1579.3 L1406.6,1590.9 L1407.7,1602.7 L1408.7,1614.6 L1409.7,1626.5 L1410.7,1638.6 L1411.7,1650.8 L1412.6,1663.1 L1413.6,1675.5 L1414.5,1688.1 L1415.4,1700.7 L1416.3,1713.5 L1417.1,1726.4 L1417.9,1739.3 L1418.8,1752.4 L1419.5,1765.6 L1420.3,1779.0 L1421.1,1792.4 L1421.8,1805.9 L1422.5,1819.6 L1423.2,1833.4 L1423.8,1847.3 L1424.4,1861.3 L1425.0,1875.4 L1425.6,1889.6 L1426.2,1903.9 L1426.7,1918.4 L1427.2,1932.9 L1427.7,1947.6 L1428.2,1962.4 L1428.6,1977.3 L1429.0,1992.3 L1429.4,2007.4 L1429.8,2022.6 L1430.1,2038.0 L1430.4,2053.4 L1430.7,2069.0" stroke="#ff4141" stroke-width="7.8"/>
<path d="M858.2,2069.0 L858.9,2053.4 L859.5,2038.0 L860.2,2022.7 L860.8,2007.5 L861.3,1992.3 L861.9,1977.4 L862.4,1962.5 L862.9,1947.7 L863.4,1933.0 L863.9,1918.5 L864.4,1904.1 L864.9,1889.7 L865.4,1875.5 L865.9,1861.4 L866.4,1847.5 L866.9,1833.6 L867.5,1819.8 L868.0,1806.2 L868.6,1792.7 L869.2,1779.2 L869.9,1765.9 L870.5,1752.7 L871.3,1739.6 L872.0,1726.7 L872.8,1713.8 L873.7,1701.1 L874.5,1688.4 L875.5,1675.9 L876.5,1663.5 L877.6,1651.2 L878.7,1639.0 L879.8,1626.9 L881.1,1615.0 L882.3,1603.1 L883.6,1591.4 L885.0,1579.8 L886.4,1568.3 L887.8,1556.9 L889.3,1545.6 L890.8,1534.4 L892.3,1523.3 L893.9,1512.4 L895.5,1501.5 L897.2,1490.8 L898.9,1480.2 L900.6,1469.7 L902.3,1459.3 L904.1,1449.0 L905.8,1438.9 L907.6,1428.8 L909.4,1418.9 L911.3,1409.0 L913.1,1399.3 L915.0,1389.7 L916.9,1380.2 L918.8,1370.9 L920.7,1361.6 L922.6,1352.4 L924.5,1343.4 L926.4,1334.5 L928.3,1325.7 L930.2,1317.0 L932.2,1308.4 L934.1,1299.9 L936.0,1291.5 L937.9,1283.3 L939.8,1275.1 L941.7,1267.1 L943.6,1259.2 L945.5,1251.4 L947.4,1243.7 L949.2,1236.1 L951.1,1228.6 L953.0,1221.3 L954.8,1214.0 L956.7,1206.9 L958.6,1199.9 L960.5,1193.0 L962.4,1186.2 L964.4,1179.5 L966.3,1172.9 L968.2,1166.5 L970.2,1160.1 L972.2,1153.9 L974.2,1147.8 L976.3,1141.7 L978.3,1135.8 L980.4,1130.1 L982.6,1124.4 L984.7,1118.8 L986.9,1113.4 L989.2,1108.0 L991.4,1102.8 L993.7,1097.7 L996.1,1092.7 L998.5,1087.8 L1000.9,1083.1 L1003.4,1078.4 L1006.0,1073.9 L1008.6,1069.4 L1011.2,1065.1 L1013.9,1060.9 L1016.7,1056.8 L1019.5,1052.8 L1022.4,1048.9 L1025.3,1045.2 L1028.3,1041.5 L1031.4,1038.0 L1034.5,1034.5 L1037.8,1031.2 L1041.0,1028.0 L1044.4,1024.9 L1047.8,1022.0 L1051.3,1019.1 L1054.9,1016.3 L1058.5,1013.7 L1062.2,1011.2 L1065.9,1008.8 L1069.7,1006.5 L1073.5,1004.3 L1077.2,1002.2 L1081.0,1000.2 L1084.8,998.4 L1088.6,996.6 L1092.4,995.0 L1096.1,993.5 L1099.8,992.1 L1103.5,990.8 L1107.1,989.6 L1110.7,988.5 L1114.2,987.6 L1117.6,986.8 L1120.9,986.0 L1124.2,985.4 L1127.3,984.9 L1130.4,984.5 L1133.3,984.2 L1136.1,984.1 L1138.8,984.0 L1141.5,984.1 L1144.3,984.2 L1147.2,984.5 L1150.3,984.9 L1153.4,985.4 L1156.7,986.0 L1160.0,986.8 L1163.4,987.6 L1166.9,988.5 L1170.5,989.6 L1174.1,990.8 L1177.8,992.1 L1181.5,993.5 L1185.2,995.0 L1189.0,996.6 L1192.8,998.4 L1196.6,1000.2 L1200.4,1002.2 L1204.1,1004.3 L1207.9,1006.5 L1211.7,1008.8 L1215.4,1011.2 L1219.1,1013.7 L1222.7,1016.3 L1226.3,1019.1 L1229.8,1022.0 L1233.2,1024.9 L1236.6,1028.0 L1239.8,1031.2 L1243.1,1034.5 L1246.2,1038.0 L1249.3,1041.5 L1252.3,1045.2 L1255.2,1048.9 L1258.1,1052.8 L1260.9,1056.8 L1263.7,1060.9 L1266.4,1065.1 L1269.0,1069.4 L1271.6,1073.9 L1274.2,1078.4 L1276.7,1083.1 L1279.1,1087.8 L1281.5,1092.7 L1283.9,1097.7 L1286.2,1102.8 L1288.4,1108.0 L1290.7,1113.4 L1292.9,1118.8 L1295.0,1124.4 L1297.2,1130.1 L1299.3,1135.8 L1301.3,1141.7 L1303.4,1147.8 L1305.4,1153.9 L1307.4,1160.1 L1309.4,1166.5 L1311.3,1172.9 L1313.2,1179.5 L1315.2,1186.2 L1317.1,1193.0 L1319.0,1199.9 L1320.9,1206.9 L1322.8,1214.0 L1324.6,1221.3 L1326.5,1228.6 L1328.4,1236.1 L1330.2,1243.7 L1332.1,1251.4 L1334.0,1259.2 L1335.9,1267.1 L1337.8,1275.1 L1339.7,1283.3 L1341.6,1291.5 L1343.5,1299.9 L1345.4,1308.4 L1347.4,1317.0 L1349.3,1325.7 L1351.2,1334.5 L1353.1,1343.4 L1355.0,1352.4 L1356.9,1361.6 L1358.8,1370.9 L1360.7,1380.2 L1362.6,1389.7 L1364.5,1399.3 L1366.3,1409.0 L1368.2,1418.9 L1370.0,1428.8 L1371.8,1438.9 L1373.5,1449.0 L1375.3,1459.3 L1377.0,1469.7 L1378.7,1480.2 L1380.4,1490.8 L1382.1,1501.5 L1383.7,1512.4 L1385.3,1523.3 L1386.8,1534.4 L1388.3,1545.6 L1389.8,1556.9 L1391.2,1568.3 L1392.6,1579.8 L1394.0,1591.4 L1395.3,1603.1 L1396.5,1615.0 L1397.8,1626.9 L1398.9,1639.0 L1400.0,1651.2 L1401.1,1663.5 L1402.1,1675.9 L1403.1,1688.4 L1403.9,1701.1 L1404.8,1713.8 L1405.6,1726.7 L1406.3,1739.6 L1407.1,1752.7 L1407.7,1765.9 L1408.4,1779.2 L1409.0,1792.7 L1409.6,1806.2 L1410.1,1819.8 L1410.7,1833.6 L1411.2,1847.5 L1411.7,1861.4 L1412.2,1875.5 L1412.7,1889.7 L1413.2,1904.1 L1413.7,1918.5 L1414.2,1933.0 L1414.7,1947.7 L1415.2,1962.5 L1415.7,1977.4 L1416.3,1992.3 L1416.8,2007.5 L1417.4,2022.7 L1418.1,2038.0 L1418.7,2053.4 L1419.4,2069.0" stroke="#0068c8" stroke-width="9.2"/>
<path d="M902.0,2069.0 L902.3,2053.6 L902.5,2038.3 L902.7,2023.2 L903.0,2008.1 L903.3,1993.2 L903.6,1978.3 L903.9,1963.6 L904.3,1949.0 L904.6,1934.5 L905.0,1920.1 L905.5,1905.8 L905.9,1891.6 L906.4,1877.6 L906.9,1863.6 L907.5,1849.8 L908.0,1836.1 L908.6,1822.5 L909.3,1809.0 L909.9,1795.6 L910.6,1782.3 L911.4,1769.1 L912.1,1756.1 L913.0,1743.1 L913.8,1730.3 L914.7,1717.6 L915.6,1705.0 L916.6,1692.5 L917.6,1680.1 L918.7,1667.8 L919.8,1655.6 L920.9,1643.6 L922.1,1631.6 L923.3,1619.8 L924.6,1608.1 L925.9,1596.5 L927.3,1584.9 L928.7,1573.6 L930.1,1562.3 L931.6,1551.1 L933.1,1540.1 L934.7,1529.1 L936.3,1518.3 L938.0,1507.6 L939.7,1496.9 L941.4,1486.4 L943.2,1476.0 L945.0,1465.8 L946.8,1455.6 L948.7,1445.5 L950.7,1435.6 L952.6,1425.8 L954.6,1416.0 L956.7,1406.4 L958.7,1396.9 L960.8,1387.5 L962.9,1378.3 L965.1,1369.1 L967.3,1360.0 L969.4,1351.1 L971.6,1342.3 L973.8,1333.5 L976.0,1324.9 L978.3,1316.4 L980.5,1308.0 L982.7,1299.8 L984.9,1291.6 L987.1,1283.5 L989.4,1275.6 L991.6,1267.8 L993.7,1260.0 L995.9,1252.4 L998.1,1244.9 L1000.2,1237.5 L1002.4,1230.2 L1004.5,1223.1 L1006.6,1216.0 L1008.7,1209.1 L1010.8,1202.2 L1012.9,1195.5 L1014.9,1188.9 L1017.0,1182.4 L1019.1,1176.0 L1021.1,1169.7 L1023.1,1163.6 L1025.2,1157.5 L1027.2,1151.6 L1029.2,1145.7 L1031.2,1140.0 L1033.2,1134.4 L1035.2,1128.9 L1037.2,1123.5 L1039.2,1118.2 L1041.2,1113.1 L1043.2,1108.0 L1045.2,1103.1 L1047.1,1098.2 L1049.1,1093.5 L1051.1,1088.9 L1053.1,1084.4 L1055.1,1080.0 L1057.1,1075.7 L1059.1,1071.6 L1061.0,1067.5 L1063.0,1063.6 L1065.0,1059.7 L1067.0,1056.0 L1069.0,1052.4 L1071.1,1048.9 L1073.1,1045.5 L1075.1,1042.2 L1077.1,1039.1 L1079.2,1036.0 L1081.2,1033.1 L1083.3,1030.2 L1085.3,1027.5 L1087.4,1024.9 L1089.5,1022.4 L1091.6,1020.0 L1093.7,1017.7 L1095.8,1015.6 L1097.9,1013.5 L1100.0,1011.6 L1102.2,1009.7 L1104.3,1008.0 L1106.5,1006.4 L1108.7,1004.9 L1110.9,1003.5 L1113.2,1002.2 L1115.4,1001.1 L1117.6,1000.0 L1119.9,999.1 L1122.2,998.2 L1124.5,997.5 L1126.9,996.9 L1129.2,996.4 L1131.6,996.0 L1134.0,995.7 L1136.4,995.6 L1138.8,995.5 L1141.2,995.6 L1143.6,995.7 L1146.0,996.0 L1148.4,996.4 L1150.7,996.9 L1153.1,997.5 L1155.4,998.2 L1157.7,999.1 L1160.0,1000.0 L1162.2,1001.1 L1164.4,1002.2 L1166.7,1003.5 L1168.9,1004.9 L1171.1,1006.4 L1173.3,1008.0 L1175.4,1009.7 L1177.6,1011.6 L1179.7,1013.5 L1181.8,1015.6 L1183.9,1017.7 L1186.0,1020.0 L1188.1,1022.4 L1190.2,1024.9 L1192.3,1027.5 L1194.3,1030.2 L1196.4,1033.1 L1198.4,1036.0 L1200.5,1039.1 L1202.5,1042.2 L1204.5,1045.5 L1206.5,1048.9 L1208.6,1052.4 L1210.6,1056.0 L1212.6,1059.7 L1214.6,1063.6 L1216.6,1067.5 L1218.5,1071.6 L1220.5,1075.7 L1222.5,1080.0 L1224.5,1084.4 L1226.5,1088.9 L1228.5,1093.5 L1230.5,1098.2 L1232.4,1103.1 L1234.4,1108.0 L1236.4,1113.1 L1238.4,1118.2 L1240.4,1123.5 L1242.4,1128.9 L1244.4,1134.4 L1246.4,1140.0 L1248.4,1145.7 L1250.4,1151.6 L1252.4,1157.5 L1254.5,1163.6 L1256.5,1169.7 L1258.5,1176.0 L1260.6,1182.4 L1262.7,1188.9 L1264.7,1195.5 L1266.8,1202.2 L1268.9,1209.1 L1271.0,1216.0 L1273.1,1223.1 L1275.2,1230.2 L1277.4,1237.5 L1279.5,1244.9 L1281.7,1252.4 L1283.9,1260.0 L1286.0,1267.8 L1288.2,1275.6 L1290.5,1283.5 L1292.7,1291.6 L1294.9,1299.8 L1297.1,1308.0 L1299.3,1316.4 L1301.6,1324.9 L1303.8,1333.5 L1306.0,1342.3 L1308.2,1351.1 L1310.3,1360.0 L1312.5,1369.1 L1314.7,1378.3 L1316.8,1387.5 L1318.9,1396.9 L1320.9,1406.4 L1323.0,1416.0 L1325.0,1425.8 L1326.9,1435.6 L1328.9,1445.5 L1330.8,1455.6 L1332.6,1465.8 L1334.4,1476.0 L1336.2,1486.4 L1337.9,1496.9 L1339.6,1507.6 L1341.3,1518.3 L1342.9,1529.1 L1344.5,1540.1 L1346.0,1551.1 L1347.5,1562.3 L1348.9,1573.6 L1350.3,1584.9 L1351.7,1596.5 L1353.0,1608.1 L1354.3,1619.8 L1355.5,1631.6 L1356.7,1643.6 L1357.8,1655.6 L1358.9,1667.8 L1360.0,1680.1 L1361.0,1692.5 L1362.0,1705.0 L1362.9,1717.6 L1363.8,1730.3 L1364.6,1743.1 L1365.5,1756.1 L1366.2,1769.1 L1367.0,1782.3 L1367.7,1795.6 L1368.3,1809.0 L1369.0,1822.5 L1369.6,1836.1 L1370.1,1849.8 L1370.7,1863.6 L1371.2,1877.6 L1371.7,1891.6 L1372.1,1905.8 L1372.6,1920.1 L1373.0,1934.5 L1373.3,1949.0 L1373.7,1963.6 L1374.0,1978.3 L1374.3,1993.2 L1374.6,2008.1 L1374.9,2023.2 L1375.1,2038.3 L1375.3,2053.6 L1375.6,2069.0" stroke="#00a465" stroke-width="11.0"/>
</g></g>
<g fill="none" stroke-linecap="butt" filter="url(#soft)">
<path d="M1340,1068.5 L1660,1024.5" stroke="#3f3f3f" stroke-width="5"/>
<path d="M1371,1284 L1660,1319" stroke="#ff4141" stroke-width="6.4"/>
<path d="M1378,1471 L1660,1609" stroke="#0068c8" stroke-width="7.4"/>
<path d="M1362,1678 L1660,1906" stroke="#00a465" stroke-width="8.6"/>
</g>
<path d="M337.8,2057.0 v12 M452.0,2057.0 v26 M452.0,878.0 v23 M566.2,2057.0 v12 M566.2,878.0 v11 M680.5,2057.0 v26 M680.5,878.0 v23 M794.8,2057.0 v12 M794.8,878.0 v11 M909.0,2057.0 v26 M909.0,878.0 v23 M1023.2,2057.0 v12 M1023.2,878.0 v11 M1137.5,2057.0 v26 M1137.5,878.0 v23 M1251.8,2057.0 v12 M1251.8,878.0 v11 M1366.0,2057.0 v26 M1366.0,878.0 v23 M1480.2,2057.0 v12 M1480.2,878.0 v11 M1594.5,2057.0 v26 M1594.5,878.0 v23 M1708.8,2057.0 v12 M1710.2,878.0 v5 M1823.0,2057.0 v26 M1824.5,878.0 v5 M1937.2,2057.0 v12 M338.0,968.0 h-23 M338.0,1058.8 h-11 M338.0,1149.5 h-23 M338.0,1240.2 h-11 M338.0,1331.0 h-23 M338.0,1421.8 h-11 M338.0,1512.5 h-23 M338.0,1603.2 h-11 M338.0,1694.0 h-23 M338.0,1784.8 h-11 M338.0,1875.5 h-23 M338.0,1966.2 h-11 M338.0,2057.0 h-23" fill="none" stroke="#2a2a2a" stroke-width="4.2"/>
<path d="M1938.0,878.0 V2057.0" stroke="#6c6c6c" stroke-width="5.4" fill="none"/>
<path d="M1941.0,968.0 h-7 M1941.0,1058.8 h-7 M1941.0,1149.5 h-7 M1941.0,1240.2 h-7 M1941.0,1331.0 h-7 M1941.0,1421.8 h-7 M1941.0,1512.5 h-7 M1941.0,1603.2 h-7 M1941.0,1694.0 h-7 M1941.0,1784.8 h-7 M1941.0,1875.5 h-7 M1941.0,1966.2 h-7" stroke="#222" stroke-width="3.5" fill="none"/>
<path d="M338.5,2059.0 V878.0" stroke="#3d3d3d" stroke-width="4.8" fill="none"/>
<path d="M336.0,878.0 H1940.5" stroke="#262626" stroke-width="4.6" fill="none"/>
<path d="M315.0,2057.0 H1940.5" stroke="#1e1e1e" stroke-width="4.6" fill="none"/>
<g fill="#1a1a1a" stroke="#1a1a1a" stroke-width="0.9" filter="url(#tblur)">
<text transform="translate(452.0,2147.5) scale(1.0,1.05)" text-anchor="middle" font-size="61">-<tspan dx="3.5">120</tspan></text>
<text transform="translate(680.5,2147.5) scale(1.0,1.05)" text-anchor="middle" font-size="61">-<tspan dx="3.5">80</tspan></text>
<text transform="translate(909.0,2147.5) scale(1.0,1.05)" text-anchor="middle" font-size="61">-<tspan dx="3.5">40</tspan></text>
<text transform="translate(1137.5,2147.5) scale(1.0,1.05)" text-anchor="middle" font-size="61">0</text>
<text transform="translate(1366.0,2147.5) scale(1.0,1.05)" text-anchor="middle" font-size="61">40</text>
<text transform="translate(1594.5,2147.5) scale(1.0,1.05)" text-anchor="middle" font-size="61">80</text>
<text transform="translate(1823.0,2147.5) scale(1.0,1.05)" text-anchor="middle" font-size="61">120</text>
<text transform="translate(296.0,988.5) scale(1.0,1.05)" text-anchor="end" font-size="61">0</text>
<text transform="translate(296.0,1170.0) scale(1.0,1.05)" text-anchor="end" font-size="61">-<tspan dx="3.5">100</tspan></text>
<text transform="translate(296.0,1351.5) scale(1.0,1.05)" text-anchor="end" font-size="61">-<tspan dx="3.5">200</tspan></text>
<text transform="translate(296.0,1533.0) scale(1.0,1.05)" text-anchor="end" font-size="61">-<tspan dx="3.5">300</tspan></text>
<text transform="translate(296.0,1714.5) scale(1.0,1.05)" text-anchor="end" font-size="61">-<tspan dx="3.5">400</tspan></text>
<text transform="translate(296.0,1896.0) scale(1.0,1.05)" text-anchor="end" font-size="61">-<tspan dx="3.5">500</tspan></text>
<text transform="translate(296.0,2077.5) scale(1.0,1.05)" text-anchor="end" font-size="61">-<tspan dx="3.5">600</tspan></text>
<text x="1138" y="2259" text-anchor="middle" font-size="75">radius [nm]</text>
<text transform="translate(94,1469) rotate(-90)" text-anchor="middle" font-size="75">height [nm]</text>
</g>
<g id="legend">
<rect x="364.700" y="922.300" width="390" height="321.100" fill="#fff" stroke="#828282" stroke-width="4"/>
<rect x="436.2" y="950.8" width="32.5" height="32.5" fill="none" stroke="#555" stroke-width="4"/><circle cx="452.5" cy="967.0" r="2.5" fill="#555"/>
<circle cx="452.7" cy="1045.5" r="18.25" fill="none" stroke="#f26464" stroke-width="4.6"/><circle cx="452.7" cy="1045.5" r="2.5" fill="#f26464"/>
<polygon points="453.0,1101.0 433.5,1135.5 472.5,1135.5" fill="none" stroke="#0074c2" stroke-width="4.8" stroke-linejoin="miter"/><circle cx="453.0" cy="1124.0" r="2.5" fill="#0074c2"/>
<polygon points="453.0,1226.0 433.5,1191.5 472.5,1191.5" fill="none" stroke="#00a878" stroke-width="4.8" stroke-linejoin="miter"/><circle cx="453.0" cy="1203.0" r="2.5" fill="#00a878"/>
<g font-size="61" fill="#1a1a1a" stroke="#1a1a1a" stroke-width="0.8" filter="url(#tblur)">
<text transform="translate(540.5,987.5) scale(1.045,1)">5 keV</text>
<text transform="translate(540.5,1066.2) scale(1.045,1)">10 keV</text>
<text transform="translate(540.5,1144.9) scale(1.045,1)">20 keV</text>
<text transform="translate(540.5,1223.6) scale(1.045,1)">30 keV</text>
</g></g>
<rect x="68.500" y="877.500" width="113" height="90" fill="#fff" stroke="#111" stroke-width="1.6"/>
<text class="b" x="83.500" y="947.500" font-size="79.500" fill="#000">(d)</text>
<g><rect x="1659" y="878" width="275.5" height="286.5" fill="#4f4f4f"/><clipPath id="ci878"><rect x="1659" y="878" width="275.5" height="286.5"/></clipPath><g clip-path="url(#ci878)"><path d="M1760.3,1176.5 L1760.8,1161.0 L1761.3,1145.5 L1761.9,1130.0 L1762.4,1114.5 L1763.0,1099.0 L1763.6,1083.5 L1764.2,1068.0 L1764.8,1052.5 L1765.5,1037.0 L1766.3,1021.5 L1767.4,1006.0 L1769.1,990.5 L1771.7,975.0 L1772.7,971.0 L1775.2,963.0 L1778.3,956.3 L1781.9,950.8 L1786.1,946.5 L1790.6,943.4 L1795.5,941.6 L1800.5,941.0 L1805.5,941.6 L1810.4,943.4 L1814.9,946.5 L1819.1,950.8 L1822.7,956.3 L1825.8,963.0 L1828.3,971.0 L1829.3,975.0 L1831.9,990.5 L1833.6,1006.0 L1834.7,1021.5 L1835.5,1037.0 L1836.2,1052.5 L1836.8,1068.0 L1837.4,1083.5 L1838.0,1099.0 L1838.6,1114.5 L1839.1,1130.0 L1839.7,1145.5 L1840.2,1161.0 L1840.7,1176.5 Z" fill="#a4a4a4" filter="url(#bl5)"/><path d="M1778.4,1182.8 L1778.7,1167.3 L1779.0,1151.8 L1779.3,1136.3 L1779.6,1120.8 L1779.9,1105.3 L1780.2,1089.8 L1780.5,1074.3 L1780.9,1058.8 L1781.2,1043.3 L1781.7,1027.8 L1782.3,1012.3 L1783.2,996.8 L1784.7,981.3 L1785.2,977.3 L1786.6,969.3 L1788.3,962.6 L1790.3,957.1 L1792.6,952.8 L1795.1,949.7 L1797.8,947.9 L1800.5,947.3 L1803.2,947.9 L1805.9,949.7 L1808.4,952.8 L1810.7,957.1 L1812.7,962.6 L1814.4,969.3 L1815.8,977.3 L1816.3,981.3 L1817.8,996.8 L1818.7,1012.3 L1819.3,1027.8 L1819.8,1043.3 L1820.1,1058.8 L1820.5,1074.3 L1820.8,1089.8 L1821.1,1105.3 L1821.4,1120.8 L1821.7,1136.3 L1822.0,1151.8 L1822.3,1167.3 L1822.6,1182.8 Z" fill="#bababa" filter="url(#bl5)" opacity="0.8"/></g></g>
<g><rect x="1659" y="1178.5" width="275.5" height="282.5" fill="#4f4f4f"/><clipPath id="ci1178"><rect x="1659" y="1178.5" width="275.5" height="282.5"/></clipPath><g clip-path="url(#ci1178)"><path d="M1772.6,1473.0 L1773.1,1457.9 L1773.6,1442.8 L1774.1,1427.8 L1774.6,1412.7 L1775.1,1397.6 L1775.6,1382.5 L1776.1,1367.5 L1776.6,1352.4 L1777.1,1337.3 L1777.7,1322.2 L1778.5,1307.2 L1779.5,1292.1 L1781.2,1277.0 L1781.8,1273.0 L1783.4,1265.0 L1785.3,1258.3 L1787.7,1252.8 L1790.4,1248.5 L1793.4,1245.4 L1796.7,1243.6 L1800.0,1243.0 L1803.3,1243.6 L1806.5,1245.4 L1809.5,1248.5 L1812.1,1252.8 L1814.3,1258.3 L1816.1,1265.0 L1817.5,1273.0 L1818.0,1277.0 L1819.3,1292.1 L1820.0,1307.2 L1820.4,1322.2 L1820.6,1337.3 L1820.8,1352.4 L1821.0,1367.5 L1821.1,1382.5 L1821.2,1397.6 L1821.4,1412.7 L1821.5,1427.8 L1821.6,1442.8 L1821.7,1457.9 L1821.8,1473.0 Z" fill="#a6a6a6" filter="url(#bl3)"/><path d="M1783.7,1479.3 L1784.1,1464.2 L1784.4,1449.1 L1784.8,1434.1 L1785.1,1419.0 L1785.4,1403.9 L1785.8,1388.8 L1786.2,1373.8 L1786.5,1358.7 L1786.9,1343.6 L1787.3,1328.5 L1787.8,1313.5 L1788.5,1298.4 L1789.5,1283.3 L1789.8,1279.3 L1790.7,1271.3 L1791.9,1264.6 L1793.2,1259.1 L1794.7,1254.8 L1796.4,1251.7 L1798.2,1249.9 L1800.0,1249.3 L1801.8,1249.9 L1803.6,1251.7 L1805.2,1254.8 L1806.6,1259.1 L1807.8,1264.6 L1808.7,1271.3 L1809.5,1279.3 L1809.7,1283.3 L1810.3,1298.4 L1810.6,1313.5 L1810.8,1328.5 L1810.8,1343.6 L1810.9,1358.7 L1810.9,1373.8 L1810.9,1388.8 L1810.8,1403.9 L1810.8,1419.0 L1810.8,1434.1 L1810.8,1449.1 L1810.8,1464.2 L1810.8,1479.3 Z" fill="#b4b4b4" filter="url(#bl5)" opacity="0.8"/></g><rect x="1663.75" y="1183.25" width="266.0" height="273.0" fill="none" stroke="#ff4141" stroke-width="9.5"/></g>
<g><rect x="1659" y="1473.5" width="275.5" height="282.5" fill="#424242"/><clipPath id="ci1473"><rect x="1659" y="1473.5" width="275.5" height="282.5"/></clipPath><g clip-path="url(#ci1473)"><path d="M1773.7,1768.0 L1774.1,1752.1 L1774.5,1736.2 L1774.9,1720.2 L1775.3,1704.3 L1775.6,1688.4 L1776.0,1672.5 L1776.4,1656.5 L1776.9,1640.6 L1777.3,1624.7 L1777.9,1608.8 L1778.5,1592.8 L1779.5,1576.9 L1781.0,1561.0 L1781.5,1557.0 L1782.8,1549.0 L1784.5,1542.3 L1786.4,1536.8 L1788.5,1532.5 L1790.9,1529.4 L1793.4,1527.6 L1796.0,1527.0 L1798.6,1527.6 L1801.1,1529.4 L1803.4,1532.5 L1805.5,1536.8 L1807.3,1542.3 L1808.8,1549.0 L1810.0,1557.0 L1810.5,1561.0 L1811.7,1576.9 L1812.4,1592.8 L1812.8,1608.8 L1813.1,1624.7 L1813.3,1640.6 L1813.5,1656.5 L1813.6,1672.5 L1813.8,1688.4 L1813.9,1704.3 L1814.0,1720.2 L1814.2,1736.2 L1814.3,1752.1 L1814.4,1768.0 Z" fill="#a8a8a8" filter="url(#bl3)"/><path d="M1782.9,1774.3 L1783.1,1758.4 L1783.4,1742.5 L1783.7,1726.5 L1784.0,1710.6 L1784.2,1694.7 L1784.5,1678.8 L1784.8,1662.8 L1785.1,1646.9 L1785.4,1631.0 L1785.7,1615.1 L1786.2,1599.1 L1786.7,1583.2 L1787.6,1567.3 L1787.9,1563.3 L1788.7,1555.3 L1789.6,1548.6 L1790.7,1543.1 L1791.9,1538.8 L1793.2,1535.7 L1794.6,1533.9 L1796.0,1533.3 L1797.4,1533.9 L1798.8,1535.7 L1800.0,1538.8 L1801.2,1543.1 L1802.2,1548.6 L1803.0,1555.3 L1803.6,1563.3 L1803.9,1567.3 L1804.5,1583.2 L1804.8,1599.1 L1805.0,1615.1 L1805.1,1631.0 L1805.1,1646.9 L1805.2,1662.8 L1805.2,1678.8 L1805.2,1694.7 L1805.2,1710.6 L1805.2,1726.5 L1805.2,1742.5 L1805.3,1758.4 L1805.3,1774.3 Z" fill="#b6b6b6" filter="url(#bl5)" opacity="0.8"/></g><rect x="1663.75" y="1478.25" width="266.0" height="273.0" fill="none" stroke="#0068c8" stroke-width="9.5"/></g>
<g><rect x="1659" y="1768" width="275.5" height="286.5" fill="#2c2c2c"/><clipPath id="ci1768"><rect x="1659" y="1768" width="275.5" height="286.5"/></clipPath><g clip-path="url(#ci1768)"><path d="M1778.4,2066.5 L1778.5,2051.7 L1778.6,2037.0 L1778.7,2022.2 L1778.9,2007.4 L1779.0,1992.7 L1779.1,1977.9 L1779.3,1963.1 L1779.4,1948.3 L1779.7,1933.6 L1780.0,1918.8 L1780.4,1904.0 L1781.1,1889.3 L1782.1,1874.5 L1782.6,1870.5 L1783.6,1862.5 L1784.9,1855.8 L1786.3,1850.3 L1787.9,1846.0 L1789.7,1842.9 L1791.6,1841.1 L1793.5,1840.5 L1795.4,1841.1 L1797.4,1842.9 L1799.3,1846.0 L1801.1,1850.3 L1802.7,1855.8 L1804.2,1862.5 L1805.6,1870.5 L1806.1,1874.5 L1807.8,1889.3 L1809.0,1904.0 L1810.0,1918.8 L1810.9,1933.6 L1811.7,1948.3 L1812.4,1963.1 L1813.1,1977.9 L1813.8,1992.7 L1814.5,2007.4 L1815.2,2022.2 L1815.8,2037.0 L1816.5,2051.7 L1817.2,2066.5 Z" fill="#a8a8a8" filter="url(#bl3)"/><path d="M1787.1,2072.8 L1787.1,2058.0 L1787.0,2043.3 L1786.9,2028.5 L1786.9,2013.7 L1786.8,1999.0 L1786.8,1984.2 L1786.7,1969.4 L1786.7,1954.6 L1786.7,1939.9 L1786.7,1925.1 L1786.8,1910.3 L1787.1,1895.6 L1787.5,1880.8 L1787.7,1876.8 L1788.2,1868.8 L1788.9,1862.1 L1789.6,1856.6 L1790.5,1852.3 L1791.4,1849.2 L1792.4,1847.4 L1793.5,1846.8 L1794.6,1847.4 L1795.7,1849.2 L1796.7,1852.3 L1797.7,1856.6 L1798.7,1862.1 L1799.6,1868.8 L1800.4,1876.8 L1800.7,1880.8 L1801.8,1895.6 L1802.6,1910.3 L1803.3,1925.1 L1803.9,1939.9 L1804.4,1954.6 L1804.9,1969.4 L1805.5,1984.2 L1806.0,1999.0 L1806.5,2013.7 L1807.0,2028.5 L1807.5,2043.3 L1808.0,2058.0 L1808.4,2072.8 Z" fill="#b8b8b8" filter="url(#bl5)" opacity="0.8"/></g><rect x="1663.75" y="1772.75" width="266.0" height="277.0" fill="none" stroke="#00a465" stroke-width="9.5"/></g>
</g>
</svg></body></html>
